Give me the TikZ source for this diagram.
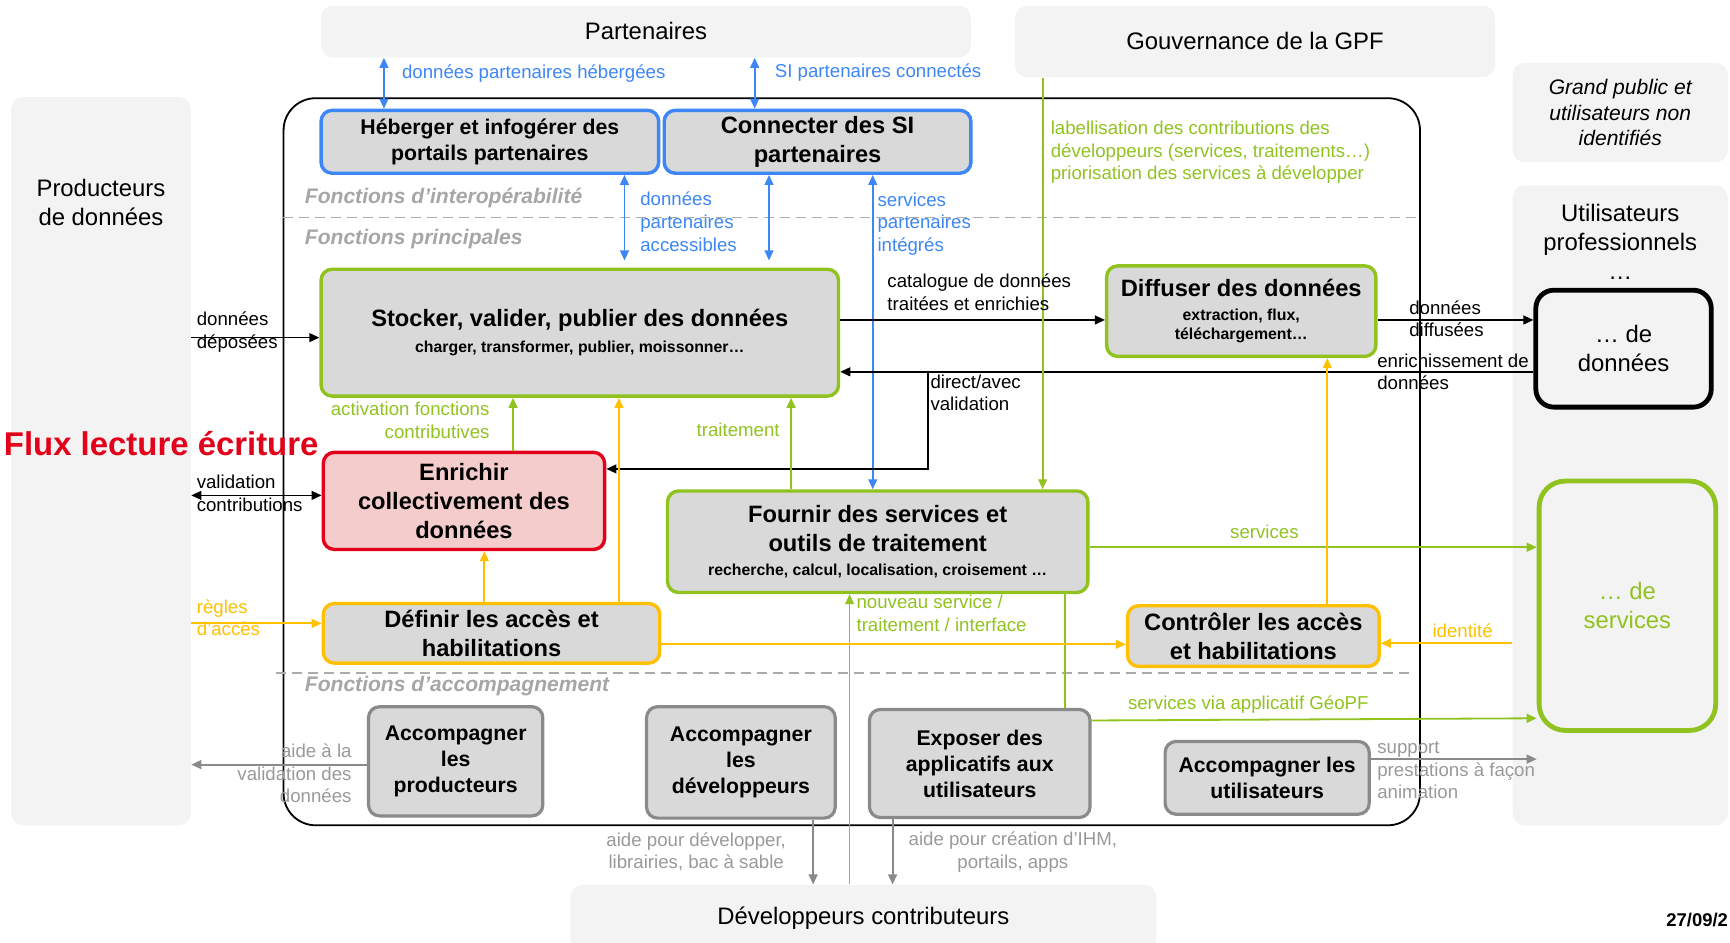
\documentclass[tikz,border=0pt]{standalone}
\usepackage{fontspec}
\setmainfont{Liberation Sans}
\usepackage{tikz}
\usetikzlibrary{arrows.meta,positioning,calc}
\definecolor{panelGrey}{HTML}{F3F3F3}
\definecolor{boxGrey}{HTML}{D9D9D9}
\definecolor{linkBlue}{HTML}{3C86F5}
\definecolor{leafGreen}{HTML}{90C31F}
\definecolor{amber}{HTML}{FFC000}
\definecolor{alertRed}{HTML}{E2001A}
\definecolor{softPink}{HTML}{F4CCCC}
\definecolor{midGrey}{HTML}{8A8A8A}
\definecolor{labelGrey}{HTML}{999999}
\definecolor{secGrey}{HTML}{A6A6A6}
\definecolor{dashGrey}{HTML}{ABABAB}
\newcommand\fntbig{\fontsize{11.9}{14.3}\selectfont}
\newcommand\fntbox{\fontsize{11.8}{14.5}\selectfont}
\newcommand\fntsml{\fontsize{10.6}{13}\selectfont}
\newcommand\fntsub{\fontsize{7.9}{9.5}\selectfont}
\newcommand\fntlab{\fontsize{9.3}{11.3}\selectfont}
\newcommand\fntsec{\fontsize{10.5}{12.6}\selectfont}

\begin{document}
\begin{tikzpicture}[x=0.55pt,y=-0.55pt,
  >={Triangle[length=5pt,width=4.4pt]},
  sz/.style 2 args={minimum width=#1*0.55pt,minimum height=#2*0.55pt},
  panel/.style={fill=panelGrey,rounded corners=6pt,inner sep=0pt,align=center,font=\fntbig},
  fnbox/.style={fill=boxGrey,rounded corners=5.5pt,line width=1.7pt,align=center,inner sep=1pt,font=\fntbox\bfseries},
  bluebox/.style={fnbox,draw=linkBlue},
  greenbox/.style={fnbox,draw=leafGreen},
  amberbox/.style={fnbox,draw=amber},
  redbox/.style={fnbox,draw=alertRed,fill=softPink},
  greybox/.style={fnbox,draw=midGrey,line width=1.6pt,font=\fntsml\bfseries},
  userbox/.style={rounded corners=9pt,line width=2.4pt,align=center,font=\fntbig,inner sep=1pt},
  lbl/.style={font=\fntlab,align=left,inner sep=0pt,anchor=west},
  seclbl/.style={font=\fntsec\bfseries\itshape,text=secGrey,inner sep=0pt,anchor=west},
  blk/.style={draw=black,line width=0.8pt},
  blu/.style={draw=linkBlue,line width=0.9pt},
  grn/.style={draw=leafGreen,line width=0.9pt},
  amb/.style={draw=amber,line width=0.9pt},
  gry/.style={draw=midGrey,line width=0.9pt},
  sep/.style={draw=dashGrey,line width=0.8pt,dash pattern=on 5pt off 3pt}
]
\useasboundingbox (0,0) rectangle (1568,854);

\node[panel,sz={589}{47}] (par) at (585.5,28.5) {Partenaires};
\node[panel,sz={435}{65}] (gov) at (1137.5,37.5) {Gouvernance de la GPF};
\node[panel,sz={195}{90},font=\fontsize{10.5}{12.6}\selectfont\itshape] (gpu) at (1468.5,102)
  {Grand public et\\utilisateurs non\\identifiés};
\node[panel,sz={195}{580}] (upro) at (1468.5,458) {};
\node[font=\fntbig,align=center,inner sep=0pt,below=9.5pt of upro.north] (uprot)
  {Utilisateurs\\professionnels\\…};
\node[panel,sz={163}{660}] (prod) at (91.5,418) {};
\node[font=\fntbig,align=center,inner sep=0pt,below=41pt of prod.north] (prodt)
  {Producteurs\\de données};
\node[panel,sz={531}{60}] (dev) at (782.5,832) {Développeurs contributeurs};

\node[draw=black,line width=0.9pt,rounded corners=16pt,sz={1030}{659}] (gpf) at (772,418.5) {};
\draw[sep] (gpf.west |- 0,197) -- (gpf.east |- 0,197);
\draw[sep] (250,610) -- (1280,610);
\node[seclbl] (secint) at (276,179) {Fonctions d’interopérabilité};
\node[seclbl] (secmain) at (276,217) {Fonctions principales};
\node[seclbl] (secacc) at (276,622) {Fonctions d’accompagnement};

\node[bluebox,sz={306}{57},font=\fntsml\bfseries] (heb) at (444,128.5)
  {Héberger et infogérer des\\portails partenaires};
\node[bluebox,sz={278}{57}] (con) at (741,128.5) {Connecter des SI\\partenaires};
\node[greenbox,sz={469}{115}] (sto) at (525.5,301.5)
  {Stocker, valider, publier des données\\[-1.8pt]{\fntsub charger, transformer, publier, moissonner…}};
\node[greenbox,sz={244}{82}] (dif) at (1125,282)
  {Diffuser des données\\[-2.4pt]{\fntsub extraction, flux,}\\[-5.1pt]{\fntsub téléchargement…}};
\node[redbox,sz={255}{88}] (enr) at (420.5,454) {Enrichir\\collectivement des\\données};
\node[greenbox,sz={381}{92}] (fou) at (795.5,491)
  {Fournir des services et\\outils de traitement\\[-2.5pt]{\fntsub recherche, calcul, localisation, croisement …}};
\node[amberbox,sz={305}{54}] (def) at (445.5,574) {Définir les accès et\\habilitations};
\node[amberbox,sz={228}{55}] (ctl) at (1136,576.5) {Contrôler les accès\\et habilitations};
\node[greybox,sz={158}{99}] (acp) at (413,690) {Accompagner\\les\\producteurs};
\node[greybox,sz={171}{101}] (acd) at (671.5,691) {Accompagner\\les\\développeurs};
\node[greybox,sz={200}{98}] (exp) at (888,692) {Exposer des\\applicatifs aux\\utilisateurs};
\node[greybox,sz={185}{66}] (acu) at (1148.5,705) {Accompagner les\\utilisateurs};
\node[userbox,draw=black,sz={159}{106}] (usd) at (1471.5,316) {… de\\données};
\node[userbox,draw=leafGreen,text=leafGreen,rounded corners=13pt,sz={160}{226}] (uss) at (1475,549)
  {… de\\services};

\foreach \xa/\na/\nb in {348/par/heb,684/par/con,791/con/fou}
  \draw[blu,<->] (\na.south -| \xa,0) -- (\nb.north -| \xa,0);
\foreach \xa/\na in {566/heb,697/con}
  \draw[blu,<->,shorten >=3.5pt] (\na.south -| \xa,0) -- (sto.north -| \xa,0);

\draw[blk,->] (prod.east |- 0,306) -- (sto.west |- 0,306);
\draw[blk,->] (sto.east |- 0,290) -- (dif.west |- 0,290);
\draw[blk,->] (dif.east |- 0,290) -- (usd.west |- 0,290);
\draw[blk,->] (usd.west |- 0,337) -- coordinate[pos=0.873] (brk) (sto.east |- 0,337);
\draw[blk,->] (brk) -- (brk |- 0,425) -- (enr.east |- 0,425);
\draw[blk,<->] (prod.east |- 0,449) -- (enr.west |- 0,449);

\draw[grn,->] (enr.north -| 465,0) -- (sto.south -| 465,0);
\draw[grn,->] (fou.north -| 717,0) -- (sto.south -| 717,0);
\draw[grn,->] (gov.south -| 945,0) -- (fou.north -| 945,0);
\draw[grn,->] (fou.east |- 0,496) -- (uss.west |- 0,496);
\draw[grn,->] (dev.north -| 770,0) -- (fou.south -| 770,0);
\draw[grn] (fou.south -| 965,0) -- (exp.north -| 965,0);
\draw[grn,->] (exp.east |- 0,653) -- (uss.west |- 0,651);

\draw[amb,->] (def.north -| 439,0) -- (enr.south -| 439,0);
\draw[amb,->] (def.north -| 561,0) -- (sto.south -| 561,0);
\draw[amb,->] (prod.east |- 0,565) -- (def.west |- 0,565);
\draw[amb,->] (def.east |- 0,584) -- (ctl.west |- 0,584);
\draw[amb,->] (ctl.north -| 1203,0) -- (dif.south -| 1203,0);
\draw[amb,->] (upro.west |- 0,583) -- (ctl.east |- 0,583);

\draw[gry,->] (acp.west |- 0,693) -- (prod.east |- 0,693);
\draw[gry,->] (acd.south -| 737,0) -- (dev.north -| 737,0);
\draw[gry,->] (exp.south -| 809,0) -- (dev.north -| 809,0);
\draw[gry,->] (acu.east |- 0,688) -- (uss.west |- 0,688);

\node[lbl,text=linkBlue] (lbhost) at (364,67) {données partenaires hébergées};
\node[lbl,text=linkBlue] (lbconn) at (702,66) {SI partenaires connectés};
\node[lbl,text=linkBlue] (lbacc) at (580,201) {données\\partenaires\\accessibles};
\node[lbl,text=linkBlue] (lbint) at (795,203) {services\\partenaires\\intégrés};
\node[lbl] (lbdep) at (178,301) {données\\déposées};
\node[lbl] (lbcat) at (804,265) {catalogue de données\\traitées et enrichies};
\node[lbl] (lbdif) at (1277,289) {données\\diffusées};
\node[lbl] (lbenr) at (1248,337) {enrichissement de\\données};
\node[lbl] (lbdir) at (843,356) {direct/avec\\validation};
\node[lbl] (lbval) at (178,447) {validation\\contributions};
\node[lbl,text=leafGreen,anchor=east,align=right] (lbact) at (444,381) {activation fonctions\\contributives};
\node[lbl,text=leafGreen,anchor=east] (lbtrt) at (707,390) {traitement};
\node[lbl,text=leafGreen] (lbgov) at (952,138)
  {labellisation des contributions des\\développeurs (services, traitements…)\\priorisation des services à développer};
\node[lbl,text=leafGreen,anchor=center] (lbsrv) at (1146,482) {services};
\node[lbl,text=leafGreen] (lbnew) at (776,556) {nouveau service /\\traitement / interface};
\node[lbl,text=leafGreen] (lbapp) at (1022,639) {services via applicatif GéoPF};
\node[lbl,text=amber] (lbreg) at (178,560) {règles\\d’accès};
\node[lbl,text=amber] (lbid) at (1298,572) {identité};
\node[lbl,text=labelGrey,anchor=east,align=right] (lbaid) at (319,701) {aide à la\\validation des\\données};
\node[lbl,text=labelGrey,anchor=center,align=center] (lbdev) at (631,772) {aide pour développer,\\librairies, bac à sable};
\node[lbl,text=labelGrey,anchor=center,align=center] (lbihm) at (918,772) {aide pour création d’IHM,\\portails, apps};
\node[lbl,text=labelGrey] (lbsup) at (1248,698) {support\\prestations à façon\\animation};

\node[font=\fontsize{16.4}{20}\selectfont\bfseries,text=alertRed,inner sep=0pt,anchor=east] (flux) at (289,402)
  {Flux lecture écriture};
\node[font=\fontsize{9.2}{11}\selectfont\bfseries,inner sep=0pt,anchor=west] (date) at (1510,834) {27/09/2};
\end{tikzpicture}
\end{document}
